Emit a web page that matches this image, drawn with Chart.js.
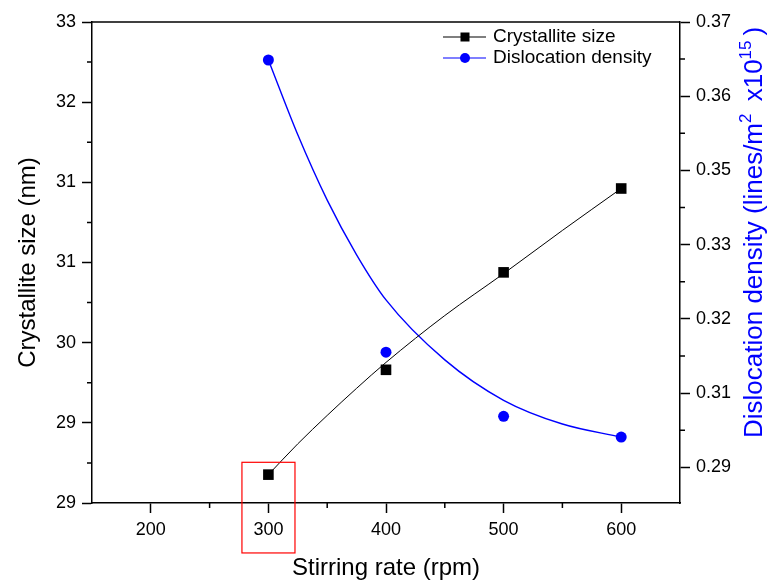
<!DOCTYPE html>
<html>
<head>
<meta charset="utf-8">
<script src="https://cdn.jsdelivr.net/npm/chart.js@4.4.1/dist/chart.umd.min.js"></script>
<style>
  body { margin: 0; background: #fff; }
  canvas { display: block; }
</style>
</head>
<body>
<canvas id="chart" width="769" height="583"></canvas>
<script>
// Data
const rates = [300, 400, 500, 600];
const crystalliteSize = [29.03, 29.88, 30.67, 31.35];
const dislocationDensity = [0.3636, 0.3144, 0.3036, 0.3001];

// fitted curves (at these rates)
const fitRates = [300, 325, 350, 375, 400, 450, 500, 550, 600];
const crystalliteFit = [29.03, 29.28, 29.51, 29.73, 29.94, 30.32, 30.66, 31.01, 31.35];
const dislocationFit = [0.3636, 0.3510, 0.3400, 0.3308, 0.3232, 0.3131, 0.3063, 0.3023, 0.3001];

// axis ticks
const xTicks = [200, 300, 400, 500, 600];
const xMinorTicks = [250, 350, 450, 550];
const leftTicks = [28.8, 29.45, 30.1, 30.75, 31.4, 32.05, 32.7];
const leftTickLabels = ['29', '29', '30', '31', '31', '32', '33'];
const rightTicks = [0.295, 0.3075, 0.32, 0.3325, 0.345, 0.3575, 0.37];
const rightTickLabels = ['0.29', '0.31', '0.32', '0.33', '0.35', '0.36', '0.37'];

// red box around the 300 rpm point (data units)
const boxX = [277.5, 322.6];
const boxY = [28.395, 29.13];

const FONT = 'Arial, "Liberation Sans", sans-serif';

function toPoints(xs, ys) {
    return xs.map((x, i) => ({ x: x, y: ys[i] }));
}

function midpoints(ticks) {
    const out = [];
    for (let i = 0; i < ticks.length - 1; i++) out.push((ticks[i] + ticks[i + 1]) / 2);
    return out;
}

// white background, top frame line, minor ticks, box, legend, right title
const extras = {
    id: 'extras',
    beforeDraw(chart) {
        const ctx = chart.ctx;
        ctx.save();
        ctx.fillStyle = '#fff';
        ctx.fillRect(0, 0, chart.width, chart.height);
        ctx.restore();
    },
    afterDraw(chart) {
        const ctx = chart.ctx;
        const area = chart.chartArea;
        const sx = chart.scales.x, sy = chart.scales.y, sy1 = chart.scales.y1;
        ctx.save();
        ctx.strokeStyle = '#000';
        ctx.lineWidth = 1.5;

        // top frame
        ctx.beginPath();
        ctx.moveTo(area.left, area.top);
        ctx.lineTo(area.right, area.top);
        ctx.stroke();

        // minor ticks
        ctx.beginPath();
        xMinorTicks.forEach(v => {
            const px = sx.getPixelForValue(v);
            ctx.moveTo(px, area.bottom);
            ctx.lineTo(px, area.bottom + 5);
        });
        midpoints(leftTicks).forEach(v => {
            const py = sy.getPixelForValue(v);
            ctx.moveTo(area.left, py);
            ctx.lineTo(area.left - 5, py);
        });
        midpoints(rightTicks).forEach(v => {
            const py = sy1.getPixelForValue(v);
            ctx.moveTo(area.right, py);
            ctx.lineTo(area.right + 5, py);
        });
        ctx.stroke();

        // red box
        ctx.strokeStyle = '#ff0000';
        ctx.lineWidth = 1.2;
        const bx0 = sx.getPixelForValue(boxX[0]), bx1 = sx.getPixelForValue(boxX[1]);
        const by0 = sy.getPixelForValue(boxY[1]), by1 = sy.getPixelForValue(boxY[0]);
        ctx.strokeRect(bx0, by0, bx1 - bx0, by1 - by0);

        // legend
        const rows = [chart.data.datasets[1], chart.data.datasets[3]];
        ctx.font = '19px ' + FONT;
        ctx.textBaseline = 'middle';
        ctx.textAlign = 'left';
        rows.forEach((ds, i) => {
            const y = 37 + i * 21;
            ctx.strokeStyle = ds.borderColor;
            ctx.fillStyle = ds.backgroundColor;
            ctx.lineWidth = 1.2;
            ctx.beginPath();
            ctx.moveTo(443, y);
            ctx.lineTo(486, y);
            ctx.stroke();
            if (ds.pointStyle === 'rect') {
                ctx.fillRect(460.5, y - 4.5, 9, 9);
            } else {
                ctx.beginPath();
                ctx.arc(465, y, 5, 0, Math.PI * 2);
                ctx.fill();
            }
            ctx.fillStyle = '#000';
            ctx.fillText(ds.label, 493, y);
        });

        // right axis title, reading bottom to top with superscripts
        const parts = [
            { t: 'Dislocation density (lines/m', sup: false },
            { t: '2', sup: true },
            { t: ' x10', sup: false },
            { t: '15', sup: true },
            { t: ')', sup: false }
        ];
        ctx.translate(744, 438);
        ctx.rotate(-Math.PI / 2);
        ctx.fillStyle = '#0000ff';
        ctx.textBaseline = 'alphabetic';
        let cx = 0;
        parts.forEach(p => {
            ctx.font = (p.sup ? '17px ' : '26px ') + FONT;
            ctx.fillText(p.t, cx, p.sup ? 7 : 18);
            cx += ctx.measureText(p.t).width + (p.sup ? 5 : 0);
        });
        ctx.restore();
    }
};

new Chart(document.getElementById('chart'), {
    type: 'line',
    data: {
        datasets: [
            {
                label: 'Crystallite size fit',
                data: toPoints(fitRates, crystalliteFit),
                yAxisID: 'y',
                borderColor: '#000',
                borderWidth: 1,
                pointRadius: 0,
                cubicInterpolationMode: 'monotone'
            },
            {
                label: 'Crystallite size',
                data: toPoints(rates, crystalliteSize),
                yAxisID: 'y',
                showLine: false,
                borderColor: '#000',
                backgroundColor: '#000',
                pointStyle: 'rect',
                pointRadius: 7.5,
                pointBorderWidth: 0
            },
            {
                label: 'Dislocation density fit',
                data: toPoints(fitRates, dislocationFit),
                yAxisID: 'y1',
                borderColor: '#0000ff',
                borderWidth: 1.4,
                pointRadius: 0,
                cubicInterpolationMode: 'monotone'
            },
            {
                label: 'Dislocation density',
                data: toPoints(rates, dislocationDensity),
                yAxisID: 'y1',
                showLine: false,
                borderColor: '#0000ff',
                backgroundColor: '#0000ff',
                pointStyle: 'circle',
                pointRadius: 5.5,
                pointBorderWidth: 0
            }
        ]
    },
    options: {
        responsive: false,
        animation: false,
        devicePixelRatio: 1,
        layout: { padding: { top: 22, left: 0, right: 0, bottom: 0 } },
        plugins: {
            legend: { display: false },
            tooltip: { enabled: false }
        },
        scales: {
            x: {
                type: 'linear',
                min: 150,
                max: 650,
                afterBuildTicks: s => { s.ticks = xTicks.map(v => ({ value: v })); },
                afterFit: s => { s.height = 80; },
                grid: { drawOnChartArea: false, drawTicks: true, tickLength: 10, tickColor: '#000', tickWidth: 1.5 },
                border: { display: true, color: '#000', width: 1.5 },
                ticks: { color: '#000', font: { family: FONT, size: 18 }, padding: 6, maxRotation: 0 },
                title: { display: true, text: 'Stirring rate (rpm)', color: '#000', font: { family: FONT, size: 24 }, padding: { top: 0, bottom: 0 } }
            },
            y: {
                type: 'linear',
                position: 'left',
                min: 28.8,
                max: 32.7,
                afterBuildTicks: s => { s.ticks = leftTicks.map(v => ({ value: v })); },
                afterFit: s => { s.width = 92; },
                grid: { drawOnChartArea: false, drawTicks: true, tickLength: 10, tickColor: '#000', tickWidth: 1.5 },
                border: { display: true, color: '#000', width: 1.5 },
                ticks: {
                    color: '#000',
                    font: { family: FONT, size: 18 },
                    padding: 6,
                    callback: (v, i) => leftTickLabels[i]
                },
                title: { display: true, text: 'Crystallite size (nm)', color: '#000', font: { family: FONT, size: 24 }, padding: { top: 14, bottom: 0 } }
            },
            y1: {
                type: 'linear',
                position: 'right',
                min: 0.289,
                max: 0.37,
                afterBuildTicks: s => { s.ticks = rightTicks.map(v => ({ value: v })); },
                afterFit: s => { s.width = 89; },
                grid: { drawOnChartArea: false, drawTicks: true, tickLength: 10, tickColor: '#000', tickWidth: 1.5 },
                border: { display: true, color: '#000', width: 1.5 },
                ticks: {
                    color: '#000',
                    font: { family: FONT, size: 18 },
                    padding: 6,
                    callback: (v, i) => rightTickLabels[i]
                },
                title: { display: false }
            }
        }
    },
    plugins: [extras]
});
</script>
</body>
</html>
